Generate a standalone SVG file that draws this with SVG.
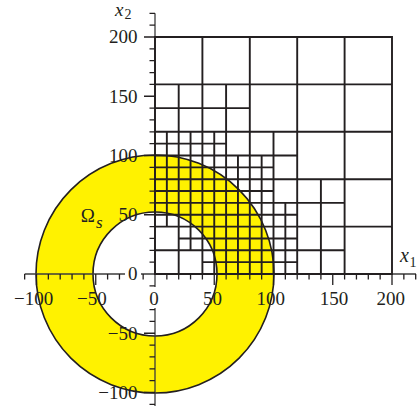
<svg xmlns="http://www.w3.org/2000/svg" width="417" height="406" viewBox="0 0 417 406">
<style>
.ax{fill:none;stroke:#3c3c3c;stroke-width:1.3}
.tk{fill:none;stroke:#231f20;stroke-width:1.3}
.grid{fill:none;stroke:#231f20;stroke-width:1.9;vector-effect:non-scaling-stroke;stroke-linecap:square}
.ring{fill:#fff200;fill-rule:evenodd;stroke:#231f20;stroke-width:1.6}
.lbl{font-family:"Liberation Serif","Times New Roman",serif;font-size:19px;fill:#231f20}
.it{font-style:italic}
</style>
<rect width="417" height="406" fill="#ffffff"/>
<g id="domain">
<path class="ring" d="M36 274A119 119 0 1 0 274 274A119 119 0 1 0 36 274ZM93 274A62 62 0 1 0 217 274A62 62 0 1 0 93 274Z"/>
</g>
<g id="axes">
<path class="ax" d="M24.65 274H125M141 274H416M155 13.3V287M155 308V406"/>
<path class="tk" d="M155 13.3h-5.5M155 25.15h-5.5M155 37h-11M155 48.85h-5.5M155 60.7h-5.5M155 72.55h-5.5M155 84.4h-5.5M155 96.25h-11M155 108.1h-5.5M155 119.95h-5.5M155 131.8h-5.5M155 143.65h-5.5M155 155.5h-11M155 167.35h-5.5M155 179.2h-5.5M155 191.05h-5.5M155 202.9h-5.5M155 214.75h-11M155 226.6h-5.5M155 238.45h-5.5M155 250.3h-5.5M155 262.15h-5.5M155 285.85h-5.5M155 309.55h-5.5M155 321.4h-5.5M155 333.25h-11M155 345.1h-5.5M155 356.95h-5.5M155 368.8h-5.5M155 380.65h-5.5M155 392.5h-11M155 404.35h-5.5"/>
<path class="tk" d="M24.65 274v5.5M36.5 274v11M48.35 274v5.5M60.2 274v5.5M72.05 274v5.5M83.9 274v5.5M95.75 274v11M107.6 274v5.5M119.45 274v5.5M143.15 274v5.5M166.85 274v5.5M178.7 274v5.5M190.55 274v5.5M202.4 274v5.5M214.25 274v11M226.1 274v5.5M237.95 274v5.5M249.8 274v5.5M261.65 274v5.5M273.5 274v11M285.35 274v5.5M297.2 274v5.5M309.05 274v5.5M320.9 274v5.5M332.75 274v11M344.6 274v5.5M356.45 274v5.5M368.3 274v5.5M380.15 274v5.5M392 274v11M403.85 274v5.5M415.7 274v5.5"/>
</g>
<g id="mesh" transform="translate(155 274) scale(1.185 -1.185)">
<path class="grid" d="M0 0V200M40 0V200M80 0V200M120 0V200M160 0V200M200 0V200M0 0H200M0 40H200M0 80H200M0 120H200M0 160H200M0 200H200
M20 0V160M60 0V160M100 0V120M140 0V80M0 20H160M0 60H160M0 100H120M0 140H80
M10 40V120M30 20V120M50 0V120M70 0V100M90 0V100M110 0V60M40 10H120M20 30H120M0 50H120M0 70H100M0 90H100M0 110H60"/>
</g>
<g id="labels" class="lbl">
<text x="137.5" y="43.3" text-anchor="end">200</text>
<text x="137.5" y="102.5" text-anchor="end">150</text>
<text x="137.5" y="161.8" text-anchor="end">100</text>
<text x="137.5" y="221" text-anchor="end">50</text>
<text x="137.5" y="280.3" text-anchor="end">0</text>
<text x="137.5" y="339.5" text-anchor="end">−50</text>
<text x="137.5" y="398.8" text-anchor="end">−100</text>
<text x="53.3" y="304.5" text-anchor="end">−100</text>
<text x="106.7" y="304.5" text-anchor="end">−50</text>
<text x="154" y="304.5" text-anchor="middle">0</text>
<text x="222" y="304.5" text-anchor="end">50</text>
<text x="285" y="304.5" text-anchor="end">100</text>
<text x="348.3" y="304.5" text-anchor="end">150</text>
<text x="405" y="304.5" text-anchor="end">200</text>
<text x="115" y="16" class="it" font-size="19">x</text>
<text x="124.5" y="19.3" font-size="14">2</text>
<text x="400" y="261.7" class="it" font-size="20">x</text>
<text x="409.5" y="266.7" font-size="14">1</text>
<text x="80.7" y="221.7">Ω</text>
<text x="96" y="228" class="it" font-size="17">s</text>
</g>
</svg>
